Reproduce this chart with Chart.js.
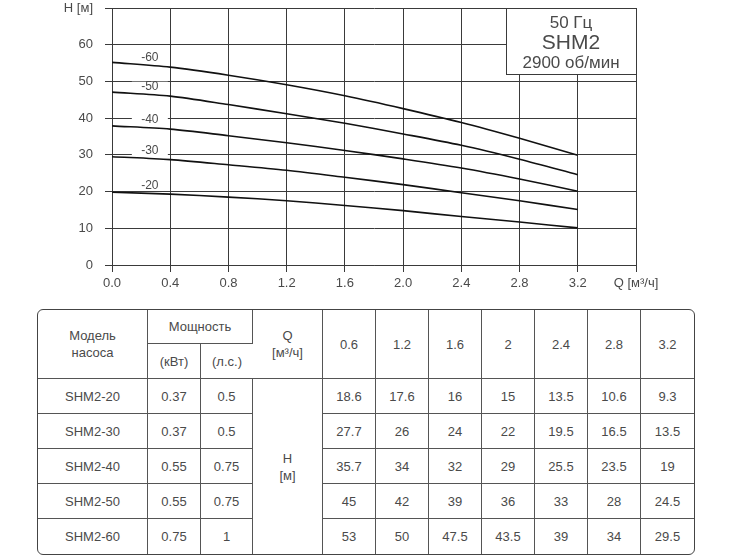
<!DOCTYPE html>
<html>
<head>
<meta charset="utf-8">
<script src="https://cdn.jsdelivr.net/npm/chart.js@4.4.1/dist/chart.umd.min.js"></script>
<style>
body { margin: 0; background: #fff; font-family: "Liberation Sans", Arial, sans-serif; color: #4a4a4a; }
#chartWrap { position: absolute; left: 0; top: 0; width: 730px; height: 300px; }
#tblWrap { position: absolute; left: 37px; top: 309px; border: 1px solid #444; border-radius: 6px; overflow: hidden; }
table { border-collapse: separate; border-spacing: 0; font-size: 13px; color: #4a4a4a; }
td { border-right: 1px solid #555; border-bottom: 1px solid #555; text-align: center; padding: 0; line-height: 17px; box-sizing: border-box; }
tr td:last-child { border-right: none; }
tr:last-child td { border-bottom: none; }
td.noBottom { border-bottom: none; }
</style>
</head>
<body>
<div id="chartWrap"><canvas id="pumpChart" width="730" height="300"></canvas></div>
<div id="tblWrap"><table id="pumpTable"></table></div>
<script>
// curve points
const flow = [0, 0.4, 0.8, 1.2, 1.6, 2.0, 2.4, 2.8, 3.2];
const curveNames = ['-20', '-30', '-40', '-50', '-60'];
const head20 = [19.8, 19.3, 18.5, 17.5, 16.2, 14.8, 13.2, 11.7, 10.1];
const head30 = [29.5, 28.7, 27.3, 25.8, 23.9, 21.9, 19.7, 17.5, 15.1];
const head40 = [37.9, 37.0, 35.2, 33.3, 31.2, 28.9, 26.4, 23.4, 20.1];
const head50 = [47.1, 46.0, 43.7, 41.2, 38.6, 35.7, 32.6, 28.8, 24.6];
const head60 = [55.2, 53.9, 51.7, 49.1, 46.1, 42.6, 38.8, 34.5, 29.9];

const xTicks = [0, 0.4, 0.8, 1.2, 1.6, 2.0, 2.4, 2.8, 3.2, 3.6];
const yTicks = [0, 10, 20, 30, 40, 50, 60, 70];
const xTitle = 'Q [м³/ч]';
const yTitle = 'H [м]';
const boxLines = ['50 Гц', 'SHM2', '2900 об/мин'];

// table below the graph
const tableFlow = ['0.6', '1.2', '1.6', '2', '2.4', '2.8', '3.2'];
const tableModels = ['SHM2-20', 'SHM2-30', 'SHM2-40', 'SHM2-50', 'SHM2-60'];
const powerKw = ['0.37', '0.37', '0.55', '0.55', '0.75'];
const powerHp = ['0.5', '0.5', '0.75', '0.75', '1'];
const tableHead20 = ['18.6', '17.6', '16', '15', '13.5', '10.6', '9.3'];
const tableHead30 = ['27.7', '26', '24', '22', '19.5', '16.5', '13.5'];
const tableHead40 = ['35.7', '34', '32', '29', '25.5', '23.5', '19'];
const tableHead50 = ['45', '42', '39', '36', '33', '28', '24.5'];
const tableHead60 = ['53', '50', '47.5', '43.5', '39', '34', '29.5'];

const FONT = '"Liberation Sans", Arial, sans-serif';
const TEXT = '#4a4a4a';
const GRID = '#3a3a3a';

function buildTable() {
    const heads = [tableHead20, tableHead30, tableHead40, tableHead50, tableHead60];
    let html = '<colgroup><col style="width:110px"><col style="width:53px"><col style="width:52px"><col style="width:70px">';
    tableFlow.forEach(() => { html += '<col style="width:53px">'; });
    html += '</colgroup>';
    html += '<tr style="height:34px"><td rowspan="2">Модель<br>насоса</td><td colspan="2">Мощность</td><td rowspan="2">Q<br>[м³/ч]</td>';
    tableFlow.forEach(q => { html += `<td rowspan="2">${q}</td>`; });
    html += '</tr><tr style="height:35px"><td>(кВт)</td><td>(л.с.)</td></tr>';
    tableModels.forEach((m, i) => {
        html += `<tr style="height:35px"><td>${m}</td><td>${powerKw[i]}</td><td>${powerHp[i]}</td>`;
        if (i === 0) html += `<td rowspan="${tableModels.length}" class="noBottom">H<br>[м]</td>`;
        heads[i].forEach(v => { html += `<td>${v}</td>`; });
        html += '</tr>';
    });
    document.getElementById('pumpTable').innerHTML = html;
}

const overlay = {
    id: 'overlay',
    afterDatasetsDraw(chart) {
        const { ctx, chartArea: a, scales: { x, y } } = chart;
        ctx.save();
        // curve labels near the left end
        ctx.font = '12px ' + FONT;
        ctx.textAlign = 'center';
        ctx.textBaseline = 'middle';
        const qLab = 0.26;
        chart.data.datasets.forEach(ds => {
            const p0 = ds.data[0], p1 = ds.data[1];
            const v = p0.y + (p1.y - p0.y) * (qLab - p0.x) / (p1.x - p0.x);
            const px = x.getPixelForValue(qLab);
            const py = y.getPixelForValue(v) - 8;
            ctx.fillStyle = '#fff';
            ctx.fillRect(px - 18, py - 5, 36, 10);
            ctx.fillStyle = TEXT;
            ctx.fillText(ds.label, px, py);
        });
        // info box in the top right corner
        const bw = 130, bh = 66;
        const bx = a.right - bw, by = a.top;
        ctx.fillStyle = '#fff';
        ctx.fillRect(bx, by, bw, bh);
        ctx.strokeStyle = GRID;
        ctx.lineWidth = 1;
        ctx.strokeRect(Math.round(bx) + 0.5, Math.round(by) + 0.5, bw, bh);
        const cx = bx + bw / 2;
        ctx.fillStyle = TEXT;
        ctx.font = '17px ' + FONT;
        ctx.fillText(boxLines[0], cx, by + 15);
        ctx.font = '21px ' + FONT;
        ctx.fillText(boxLines[1], cx, by + 35);
        ctx.font = '17px ' + FONT;
        ctx.fillText(boxLines[2], cx, by + 55);
        ctx.restore();
    }
};

function series(vals) { return flow.map((q, i) => ({ x: q, y: vals[i] })); }

document.addEventListener('DOMContentLoaded', () => {
    buildTable();
    const heads = [head20, head30, head40, head50, head60];
    new Chart(document.getElementById('pumpChart').getContext('2d'), {
        type: 'line',
        data: {
            datasets: curveNames.map((n, i) => ({
                label: n,
                data: series(heads[i]),
                borderColor: '#111',
                borderWidth: 1.6,
                pointRadius: 0,
                fill: false,
                tension: 0.3
            }))
        },
        options: {
            responsive: false,
            animation: false,
            layout: { padding: { top: 0, right: 94, left: 0, bottom: 0 } },
            plugins: { legend: { display: false }, tooltip: { enabled: false } },
            scales: {
                x: {
                    type: 'linear', min: 0, max: 3.6,
                    afterBuildTicks: s => { s.ticks = xTicks.map(v => ({ value: v })); },
                    afterFit: s => { s.height = 35; },
                    grid: { color: GRID, lineWidth: 1, tickLength: 7, tickColor: GRID },
                    border: { color: GRID, width: 1 },
                    ticks: {
                        color: TEXT, padding: 4, maxRotation: 0, autoSkip: false,
                        font: { family: FONT, size: 13 },
                        callback: v => Math.abs(v - 3.6) < 1e-6 ? xTitle : v.toFixed(1)
                    }
                },
                y: {
                    min: 0, max: 70,
                    afterBuildTicks: s => { s.ticks = yTicks.map(v => ({ value: v })); },
                    afterFit: s => { s.width = 112; s.paddingTop = 8; s.paddingBottom = 0; },
                    grid: { color: GRID, lineWidth: 1, tickLength: 7, tickColor: GRID },
                    border: { color: GRID, width: 1 },
                    ticks: {
                        color: TEXT, padding: 12, autoSkip: false,
                        font: { family: FONT, size: 13 },
                        callback: v => v === 70 ? yTitle : v
                    }
                }
            }
        },
        plugins: [overlay]
    });
});
</script>
</body>
</html>
